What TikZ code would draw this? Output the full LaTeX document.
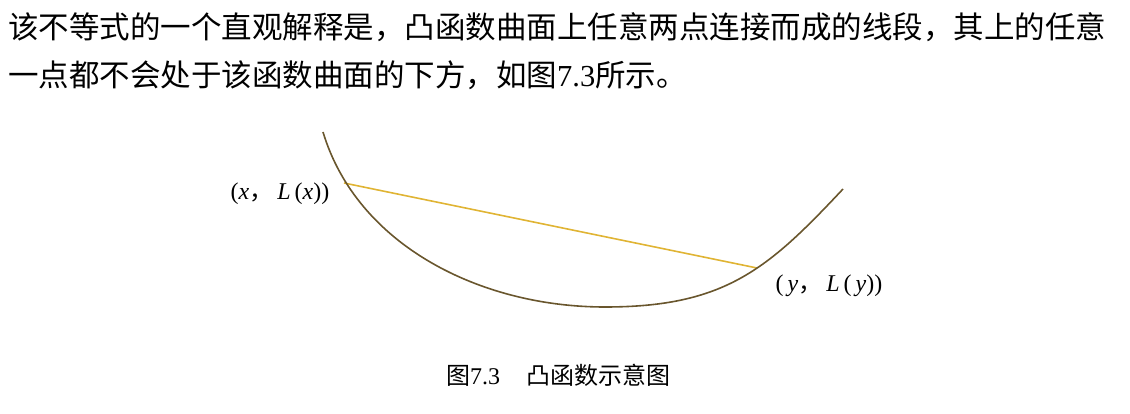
\documentclass[tikz,border=0pt]{standalone}
\usepackage{fontspec}
\setmainfont{Liberation Serif}
\newfontfamily\cjk{Noto Sans CJK SC}
\usepackage{tikz}
\definecolor{curvebrown}{RGB}{105,86,45}
\definecolor{chordgold}{RGB}{224,180,52}
\tikzstyle{curveline}=[draw=curvebrown,line width=1.6pt]
\tikzstyle{chordline}=[draw=chordgold,line width=1.6pt]
\tikzstyle{textline}=[inner sep=0pt,anchor=west,font=\cjk\fontsize{30.5}{36}\selectfont]
\tikzstyle{pointlabel}=[inner sep=0pt,font=\fontsize{24}{28}\selectfont]
\tikzstyle{caption}=[inner sep=0pt,font=\cjk\fontsize{24}{28}\selectfont]

\begin{document}
\begin{tikzpicture}[x=1pt,y=-1pt]
\useasboundingbox (0,0) rectangle (1130,414);

% text above the figure
\node[textline] (line1) at (8,27) {该不等式的一个直观解释是，凸函数曲面上任意两点连接而成的线段，其上的任意};
\node[textline] (line2) at (8,75) {一点都不会处于该函数曲面的下方，如图{\rmfamily 7.3}所示。};

% points on the curve
\coordinate (top) at (323,132);
\coordinate (px) at (344,183);
\coordinate (low) at (605,307);
\coordinate (py) at (757,268);
\coordinate (end) at (843,189);

% chord and curve
\draw[chordline] (px) -- (py);
\draw[curveline] (top) .. controls (357,245) and (480,307) .. (low)
  .. controls (725,307) and (768,269) .. (end);

% labels
\node[pointlabel] (lx) at (280,194) {(\textit{x}{\cjk，}\,\textit{L}\,(\textit{x}))};
\node[pointlabel] (ly) at (829,286) {(\,\textit{y}{\cjk，}\,\textit{L}\,(\,\textit{y}))};

% caption
\node[caption] (cap) at (558,375) {图{\rmfamily 7.3}\hspace{26pt}凸函数示意图};

\end{tikzpicture}
\end{document}
